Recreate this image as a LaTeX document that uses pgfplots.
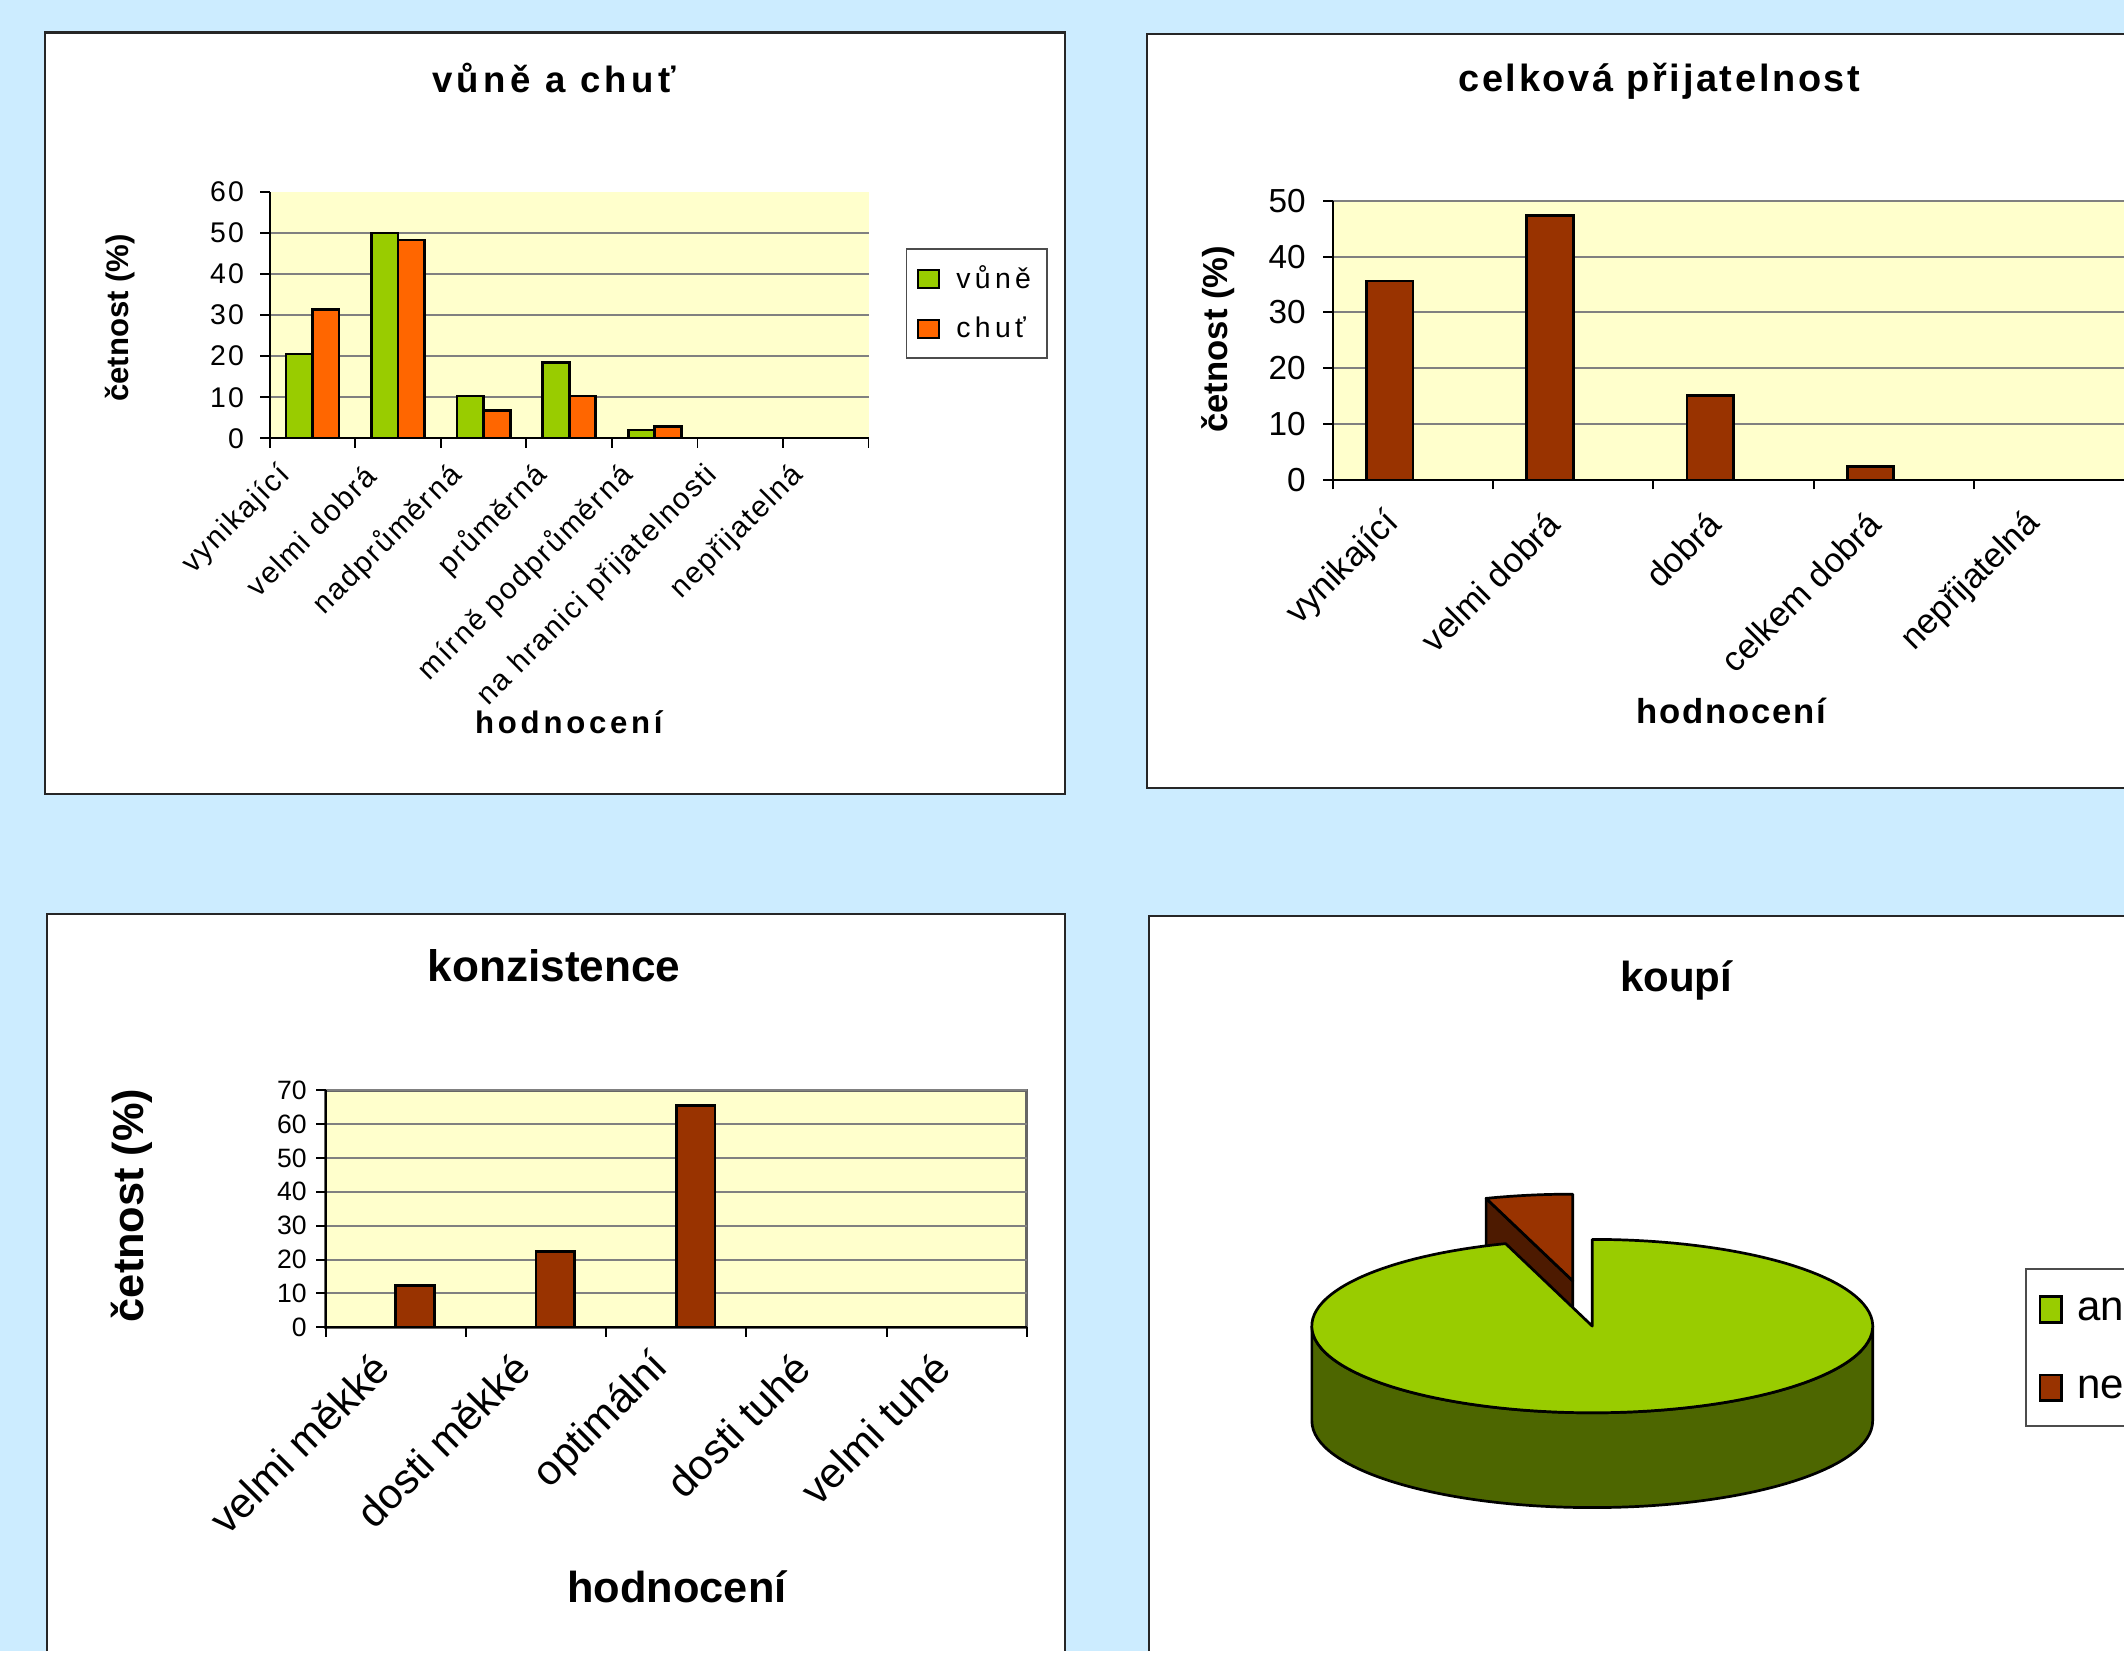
\documentclass[border=0pt]{standalone}
\usepackage{pgfplots}
\pgfplotsset{compat=1.18}
\usepackage{pgfplotstable}
\usepackage{fontspec}
\setmainfont{Liberation Sans}

\definecolor{bgblue}{RGB}{204,236,255}
\definecolor{plotyellow}{RGB}{255,255,204}
\definecolor{vgreen}{RGB}{153,204,0}
\definecolor{corange}{RGB}{255,102,0}
\definecolor{barbrown}{RGB}{153,51,0}
\definecolor{gridgray}{RGB}{128,128,128}
\definecolor{greenside}{RGB}{77,102,0}
\definecolor{brownside}{RGB}{77,26,0}

\newcommand{\fs}[1]{\fontsize{#1}{#1}\selectfont}
\newcommand{\ls}[1]{\addfontfeature{LetterSpace=#1}}
\newcommand{\px}{0.5pt}

% vůně a chuť (%)
\pgfplotstableread{
x vune chut
0 20.5 31.3
1 50.0 48.3
2 10.3 6.8
3 18.4 10.3
4 2.0 2.9
}\vunechut

% celková přijatelnost (%)
\pgfplotstableread{
x val
0 35.6
1 47.3
2 15.1
3 2.4
}\prijat

% konzistence (%)
\pgfplotstableread{
x val
0 12.4
1 22.4
2 65.6
}\konz

% koupí (%)
\pgfplotstableread{
label val
ano 95
ne 5
}\koupi

\pgfplotsset{
  excel/.style={
    scale only axis, anchor=south west,
    axis background/.style={fill=plotyellow},
    axis x line=bottom, axis y line=left,
    axis line style={-, black, line width=0.7pt},
    tick align=outside, major tick length=3.5pt,
    tick style={black, line width=0.7pt},
    ymajorgrids, grid style={gridgray, line width=0.7pt},
    xticklabels={},
    extra x tick style={major tick length=0pt, grid=none},
    /pgf/number format/assume math mode=true,
    ymin=0,
  },
  barlegend/.style={legend image code/.code={\draw[##1, line width=0.8pt] (0pt,-3.35pt) rectangle (7.7pt,3.35pt);}},
}

\begin{document}
\begin{tikzpicture}
\fill[bgblue] (0pt,0pt) rectangle (1568*\px,1219*\px);
\draw[black!85, line width=0.8pt, fill=white] (33*\px,1195*\px) rectangle (786*\px,633*\px);
\fill[white] (847*\px,1194*\px) rectangle (1568*\px,637*\px);
\draw[black!85, line width=0.8pt] (1568*\px,1194*\px) -- (847*\px,1194*\px) -- (847*\px,637*\px) -- (1568*\px,637*\px);
\fill[white] (35*\px,544*\px) rectangle (786*\px,0pt);
\draw[black!85, line width=0.8pt] (35*\px,0pt) -- (35*\px,544*\px) -- (786*\px,544*\px) -- (786*\px,0pt);
\fill[white] (848*\px,543*\px) rectangle (1568*\px,0pt);
\draw[black!85, line width=0.8pt] (848*\px,0pt) -- (848*\px,543*\px) -- (1568*\px,543*\px);

% ---- vůně a chuť
\begin{axis}[excel, at={(199.2*\px,895.4*\px)}, width=221pt, height=90.95pt,
  xmin=-0.5, xmax=6.5, ymax=60,
  xtick={-0.5,0.5,...,6.5},
  extra x ticks={0,...,6},
  extra x tick labels={vynikající,velmi dobrá,nadprůměrná,průměrná,mírně podprůměrná,na hranici přijatelnosti,nepřijatelná},
  ytick={0,10,...,50}, extra y ticks={60}, extra y tick style={grid=none},
  yticklabel style={font=\fs{10.5}\ls{8}, xshift=-2.5pt},
  xticklabel style={font=\fs{11}\ls{6}, xshift=-7.5pt, yshift=-9.5pt, rotate=45, anchor=east},
  ybar, bar width=0.31,
  legend style={at={(1.0618,0.7708)}, anchor=north west, draw=black!70, line width=0.6pt,
    font=\fs{10.5}\ls{15}, row sep=5pt, inner xsep=4pt, inner ysep=4pt,
    /tikz/every odd column/.append style={column sep=4pt}},
  legend cell align=left,
]
\addplot[fill=vgreen, draw=black, line width=1pt, bar shift=-0.155, barlegend] table[x=x, y=vune] {\vunechut};
\addplot[fill=corange, draw=black, line width=1pt, bar shift=0.155, barlegend] table[x=x, y=chut] {\vunechut};
\legend{vůně, chuť}
\end{axis}
\node[font=\fs{13.5}\bfseries\ls{12}] at (409*\px,1161.7*\px) {vůně a chuť};
\node[font=\fs{11.5}\bfseries, rotate=90] at (88.6*\px,984.3*\px) {četnost (\%)};
\node[font=\fs{11.5}\bfseries\ls{12}] at (420*\px,685.5*\px) {hodnocení};

% ---- celková přijatelnost (plot area runs past the right edge)
\begin{axis}[excel, at={(984*\px,864.7*\px)}, width=292pt, height=103.05pt,
  xmin=-0.5, xmax=4.4366, ymax=50,
  xtick={-0.5,0.5,...,3.5},
  extra x ticks={0,...,4},
  extra x tick labels={vynikající,velmi dobrá,dobrá,celkem dobrá,nepřijatelná},
  ytick={0,10,...,50},
  yticklabel style={font=\fs{12.3}, xshift=-3pt},
  xticklabel style={font=\fs{12.8}, xshift=-4.7pt, yshift=-11.7pt, rotate=45, anchor=east},
  ybar, bar width=0.29,
]
\addplot[fill=barbrown, draw=black, line width=1pt, bar shift=-0.145] table[x=x, y=val] {\prijat};
\end{axis}
\node[font=\fs{14}\bfseries\ls{7}] at (1225*\px,1158.8*\px) {celková přijatelnost};
\node[font=\fs{12.8}\bfseries, rotate=90] at (899.2*\px,968.6*\px) {četnost (\%)};
\node[font=\fs{12.8}\bfseries\ls{5}] at (1278.2*\px,694.4*\px) {hodnocení};

% ---- konzistence
\begin{axis}[excel, at={(240.4*\px,239.1*\px)}, width=258.85pt, height=87.5pt,
  axis background/.style={fill=plotyellow, draw=gridgray!80!black, line width=1.2pt},
  xmin=-0.5, xmax=4.5, ymax=70,
  xtick={-0.5,0.5,...,4.5},
  extra x ticks={0,...,4},
  extra x tick labels={velmi měkké,dosti měkké,optimální,dosti tuhé,velmi tuhé},
  ytick={0,10,...,70},
  yticklabel style={font=\fs{9.8}, xshift=0pt},
  xticklabel style={font=\fs{15.5}, xshift=-2.7pt, yshift=-10pt, rotate=45, anchor=east},
  ybar, bar width=0.276,
]
\addplot[fill=barbrown, draw=black, line width=1pt, bar shift=0.138] table[x=x, y=val] {\konz};
\end{axis}
\node[font=\fs{16.3}\bfseries] at (409*\px,506.2*\px) {konzistence};
\node[font=\fs{16}\bfseries, rotate=90] at (97.4*\px,329.1*\px) {četnost (\%)};
\node[font=\fs{16}\bfseries] at (499.8*\px,47.8*\px) {hodnocení};

% ---- koupí (3D pie)
\pgfplotstablegetelem{0}{val}\of\koupi \pgfmathsetmacro\vano{\pgfplotsretval}
\pgfplotstablegetelem{1}{val}\of\koupi \pgfmathsetmacro\vne{\pgfplotsretval}
\pgfmathsetmacro\pieang{90+360*\vne/(\vano+\vne)}
\begin{axis}[at={(968.5*\px,176*\px)}, anchor=south west, scale only axis,
  width=207pt, height=64pt, xmin=-1, xmax=1, ymin=-1, ymax=1,
  hide axis, clip=false,
]
% exploded slice "ne" (behind)
\filldraw[fill=brownside, draw=black, line width=1pt, line join=round]
  (axis cs:0,0) ++(-7.2pt,16.7pt) -- ++({103.5pt*cos(\pieang)},{32pt*sin(\pieang)}) -- ++(0pt,-35pt)
  -- ++({-103.5pt*cos(\pieang)},{-32pt*sin(\pieang)}) -- cycle;
\filldraw[fill=barbrown, draw=black, line width=1pt, line join=round]
  (axis cs:0,0) ++(-7.2pt,16.7pt) -- ++(0pt,32pt)
  arc[start angle=90, end angle=\pieang, x radius=103.5pt, y radius=32pt] -- cycle;
% slice "ano": side wall, then top face
\filldraw[fill=greenside, draw=black, line width=1pt, line join=round]
  (axis cs:0,0) ++(-103.5pt,0pt) -- ++(0pt,-35pt)
  arc[start angle=180, end angle=360, x radius=103.5pt, y radius=32pt] -- ++(0pt,35pt)
  arc[start angle=0, end angle=-180, x radius=103.5pt, y radius=32pt] -- cycle;
\filldraw[fill=vgreen, draw=black, line width=1pt, line join=round]
  (axis cs:0,0) -- ++({103.5pt*cos(\pieang)},{32pt*sin(\pieang)})
  arc[start angle=\pieang, end angle=450, x radius=103.5pt, y radius=32pt] -- cycle;
\end{axis}
\node[font=\fs{15.5}\bfseries] at (1237.5*\px,495*\px) {koupí};

% legend of the pie, cut by the right edge as in the reference
\begin{pgfinterruptboundingbox}
\begin{scope}
\clip (0pt,0pt) rectangle (1568*\px,1219*\px);
\draw[black!70, line width=0.6pt, fill=white] (1495.8*\px,282.2*\px) rectangle (1600*\px,166.3*\px);
\draw[fill=vgreen, line width=1pt] (1506*\px,242.7*\px) rectangle (1522*\px,261.7*\px);
\draw[fill=barbrown, line width=1pt] (1506*\px,184.9*\px) rectangle (1522*\px,203.9*\px);
\node[font=\fs{15.5}, anchor=west, inner sep=0pt] at (1533*\px,252.3*\px) {ano};
\node[font=\fs{15.5}, anchor=west, inner sep=0pt] at (1533*\px,194.4*\px) {ne};
\end{scope}
\end{pgfinterruptboundingbox}
\end{tikzpicture}
\end{document}
